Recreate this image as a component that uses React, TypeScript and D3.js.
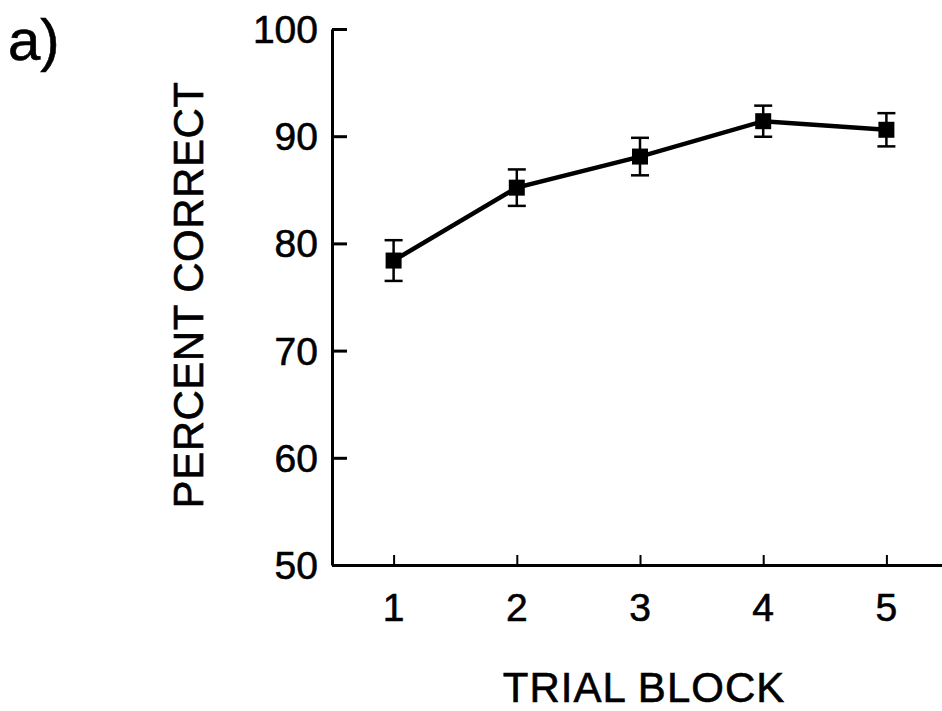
import React, { useEffect, useRef } from 'react';
import * as d3 from 'd3';

const blocks = [1, 2, 3, 4, 5];
const percentCorrect = [78.4, 85.2, 88.1, 91.4, 90.6];
const stdError = [1.9, 1.7, 1.75, 1.45, 1.55];
const yTicks = [50, 60, 70, 80, 90, 100];

const App = () => {
  const svgRef = useRef<SVGSVGElement | null>(null);

  useEffect(() => {
    const svg = d3.select(svgRef.current);
    svg.selectAll('*').remove();

    const font = '"Liberation Sans", Arial, sans-serif';
    const x = d3.scaleLinear().domain([0.5, 5.5]).range([332, 948]);
    const y = d3.scaleLinear().domain([50, 100]).range([565, 29]);

    const txt = (sel: any, size: number) =>
      sel
        .attr('font-family', font)
        .attr('font-size', size)
        .attr('stroke', '#000')
        .attr('stroke-width', 0.6)
        .attr('fill', '#000');

    // y axis, ticks pointing inward
    const yAxis = d3.axisLeft(y).tickValues(yTicks).tickSizeInner(-15).tickSizeOuter(0).tickFormat(() => '');
    const gy = svg.append('g').attr('transform', `translate(332,0)`).call(yAxis);
    gy.select('.domain').attr('stroke', '#000').attr('stroke-width', 3);
    gy.selectAll('.tick line').attr('stroke', '#000').attr('stroke-width', 3);

    svg
      .append('g')
      .selectAll('text')
      .data(yTicks)
      .enter()
      .append('text')
      .attr('x', 318)
      .attr('y', (d) => y(d) + 14)
      .attr('text-anchor', 'end')
      .call(txt, 39)
      .text((d) => d);

    // x axis, ticks pointing up
    const xAxis = d3.axisBottom(x).tickValues(blocks).tickSizeInner(-10).tickSizeOuter(0).tickFormat(() => '');
    const gx = svg.append('g').attr('transform', `translate(0,565)`).call(xAxis);
    gx.select('.domain').attr('stroke', '#000').attr('stroke-width', 3);
    gx.selectAll('.tick line').attr('stroke', '#000').attr('stroke-width', 2);

    svg
      .append('g')
      .selectAll('text')
      .data(blocks)
      .enter()
      .append('text')
      .attr('x', (d) => x(d))
      .attr('y', 621)
      .attr('text-anchor', 'middle')
      .call(txt, 39)
      .text((d) => d);

    // titles
    svg
      .append('text')
      .attr('transform', 'translate(203,295) rotate(-90)')
      .attr('text-anchor', 'middle')
      .attr('letter-spacing', 0.5)
      .call(txt, 42)
      .text('PERCENT CORRECT');

    svg
      .append('text')
      .attr('x', 644)
      .attr('y', 702)
      .attr('text-anchor', 'middle')
      .attr('letter-spacing', 1)
      .call(txt, 42)
      .text('TRIAL BLOCK');

    svg
      .append('text')
      .attr('x', 8)
      .attr('y', 60)
      .call(txt, 58)
      .text('a)');

    const pts = blocks.map((b, i) => ({ b, v: percentCorrect[i], e: stdError[i] }));

    // connecting line
    const line = d3
      .line<{ b: number; v: number }>()
      .x((d) => x(d.b))
      .y((d) => y(d.v));
    svg
      .append('path')
      .datum(pts)
      .attr('d', line)
      .attr('fill', 'none')
      .attr('stroke', '#000')
      .attr('stroke-width', 4.5);

    // error bars
    const eb = svg.append('g').attr('stroke', '#000').attr('stroke-width', 2.5);
    pts.forEach((d) => {
      const cx = x(d.b);
      eb.append('line').attr('x1', cx).attr('x2', cx).attr('y1', y(d.v + d.e)).attr('y2', y(d.v - d.e));
      eb.append('line').attr('x1', cx - 9).attr('x2', cx + 9).attr('y1', y(d.v + d.e)).attr('y2', y(d.v + d.e));
      eb.append('line').attr('x1', cx - 9).attr('x2', cx + 9).attr('y1', y(d.v - d.e)).attr('y2', y(d.v - d.e));
    });

    // square markers
    svg
      .append('g')
      .selectAll('rect')
      .data(pts)
      .enter()
      .append('rect')
      .attr('x', (d) => x(d.b) - 8)
      .attr('y', (d) => y(d.v) - 8)
      .attr('width', 16)
      .attr('height', 16)
      .attr('fill', '#000');
  }, []);

  return (
    <svg
      ref={svgRef}
      width={942}
      height={711}
      style={{ position: 'absolute', left: 0, top: 0, background: '#fff' }}
    />
  );
};

export default App;
